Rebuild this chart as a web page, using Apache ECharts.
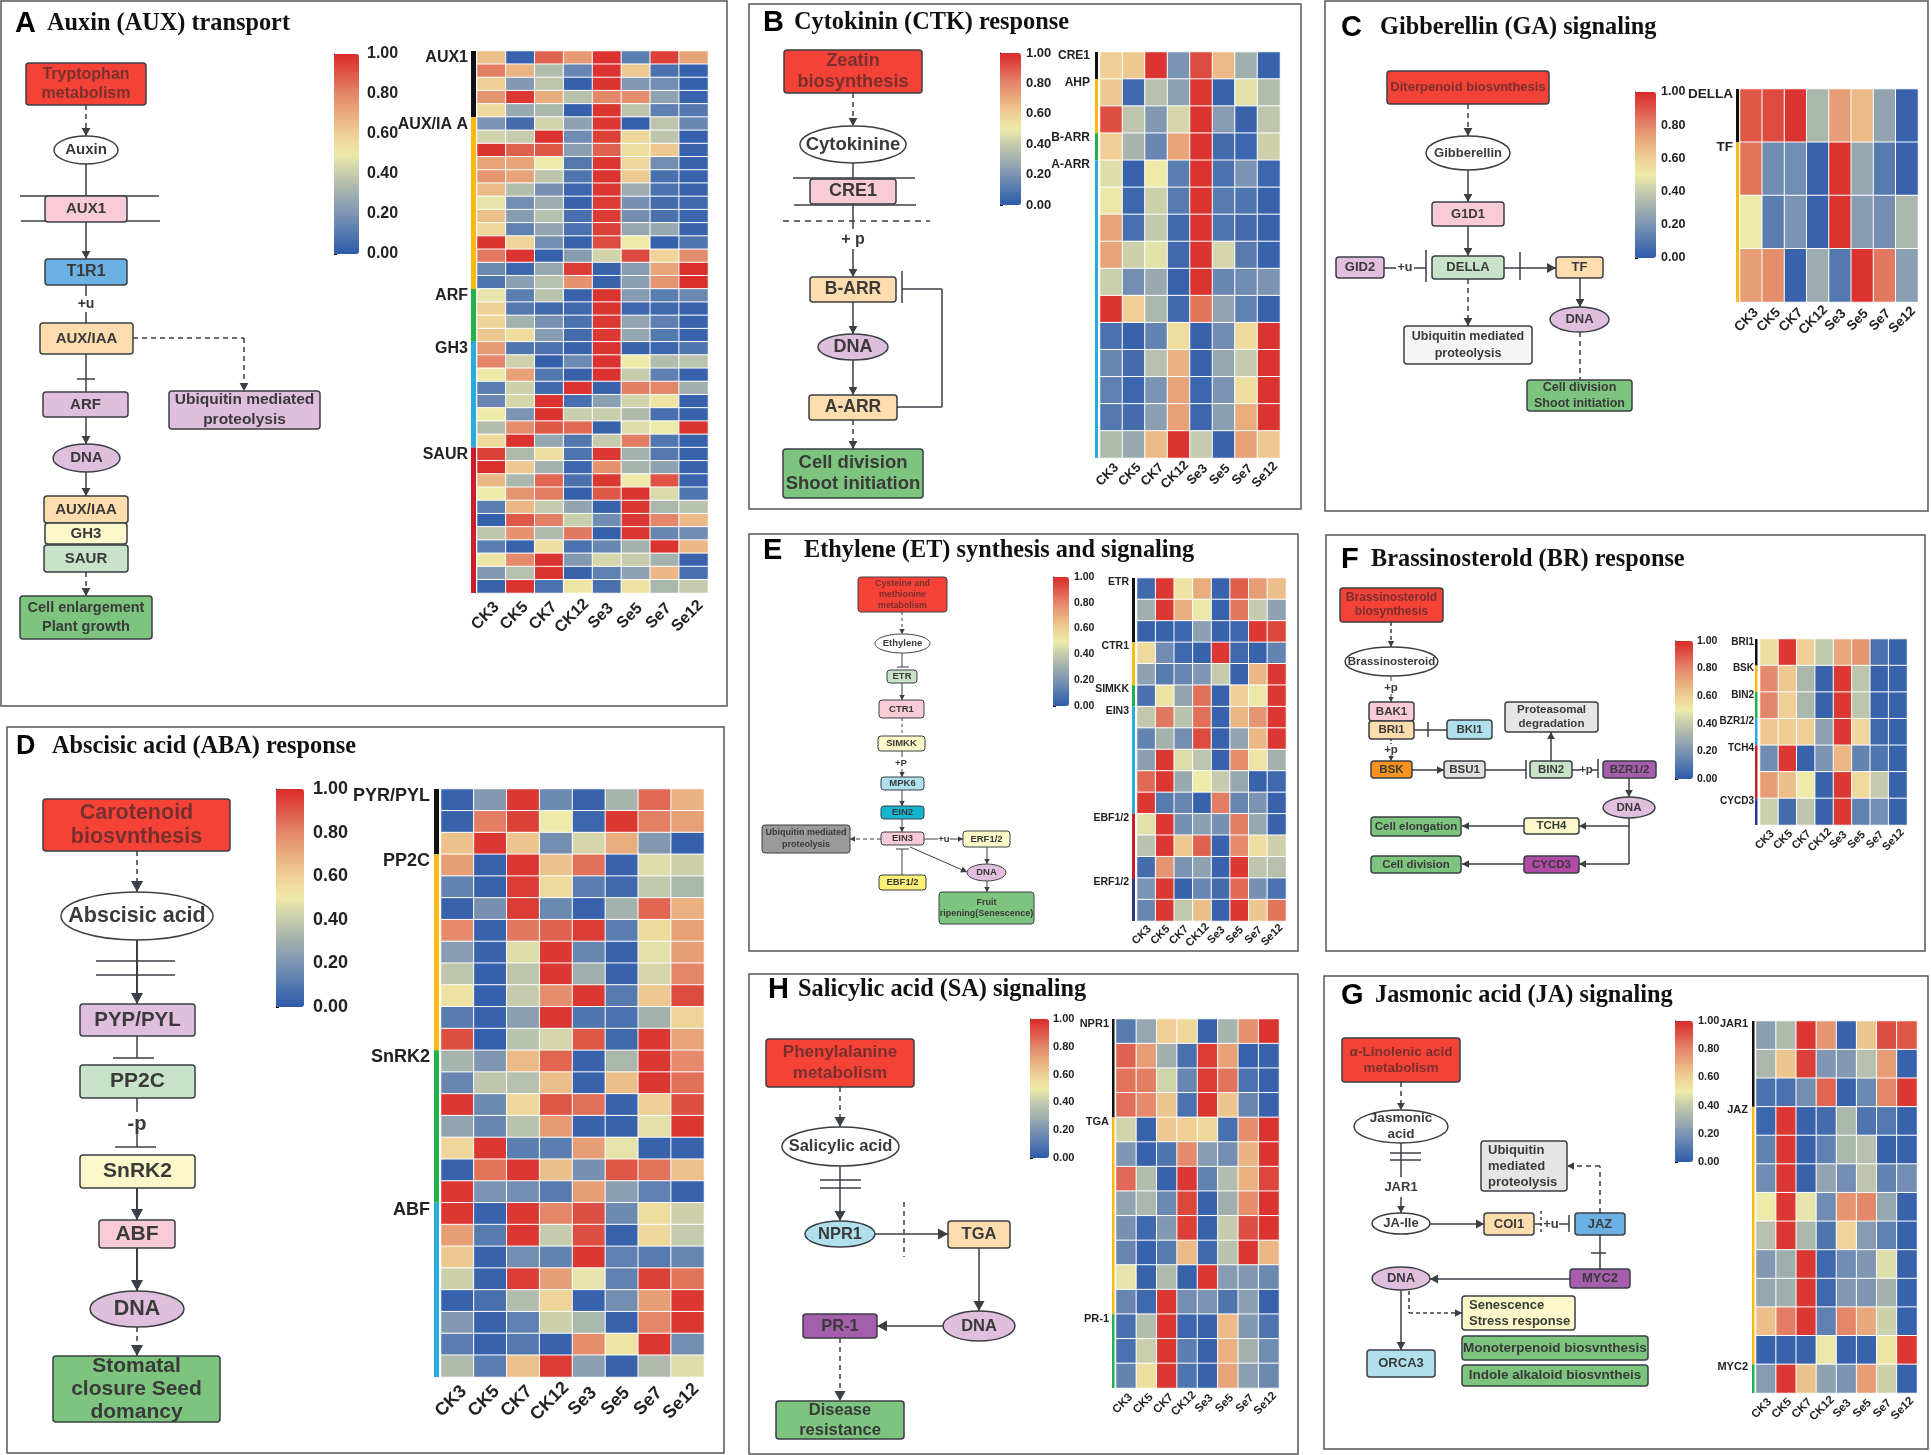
<!DOCTYPE html>
<html><head><meta charset="utf-8">
<style>html,body{margin:0;padding:0;background:#fff}#c{width:1931px;height:1455px}</style>
<script src="https://cdn.jsdelivr.net/npm/echarts@6/dist/echarts.min.js"></script>
</head><body><div id="c"></div>
<script>
// ---------- DATA ----------
const columns = ['CK3','CK5','CK7','CK12','Se3','Se5','Se7','Se12'];
const colorbarTicks = [0,0.2,0.4,0.6,0.8,1];
const colorRamp = ['#2d5aab','#5378af','#7c94b3','#a0afae','#c5cbac','#eeeaa9','#efcf96','#e9ac7d','#e4866a','#de5848','#d92a2a'];

const valuesA = [
[.65,.03,.88,.75,.98,.12,.95,.72],[.82,.68,.35,.15,.98,.62,.08,.02],[.60,.22,.38,.02,.98,.22,.18,.02],[.76,.97,.70,.36,.80,.78,.25,.03],
[.56,.28,.33,.02,.98,.38,.13,.10],[.20,.06,.43,.25,.97,.02,.38,.15],[.43,.40,.98,.17,.95,.57,.38,.02],[.98,.88,.90,.24,.88,.55,.62,.03],
[.72,.72,.50,.10,.97,.57,.18,.03],[.76,.72,.38,.09,.98,.62,.07,.03],[.66,.35,.19,.04,.97,.29,.08,.03],[.48,.18,.29,.03,.96,.19,.06,.05],
[.65,.23,.36,.07,.96,.18,.08,.04],[.57,.13,.26,.08,.95,.27,.27,.03],[.98,.58,.18,.03,.93,.50,.02,.09],[.83,.98,.02,.23,.43,.93,.58,.78],
[.16,.04,.27,.96,.03,.23,.72,.99],[.09,.24,.36,.77,.03,.24,.76,.99],[.48,.12,.37,.03,.98,.23,.12,.16],[.59,.10,.05,.05,.98,.04,.05,.03],
[.58,.31,.19,.08,.97,.26,.13,.03],[.62,.55,.23,.06,.97,.27,.10,.03],[.75,.09,.08,.03,.98,.03,.04,.09],[.80,.42,.02,.16,.98,.50,.35,.37],
[.50,.73,.10,.03,.98,.40,.13,.03],[.12,.42,.05,.98,.03,.82,.80,.30],[.15,.44,.98,.07,.24,.43,.52,.03],[.50,.20,.98,.41,.41,.34,.07,.03],
[.35,.78,.90,.86,.03,.46,.50,.98],[.56,.98,.27,.10,.40,.82,.10,.03],[.95,.34,.54,.09,.97,.31,.10,.03],[.99,.62,.31,.04,.77,.32,.25,.03],
[.67,.33,.87,.08,.97,.50,.91,.03],[.50,.76,.82,.02,.90,.98,.45,.09],[.12,.67,.40,.26,.03,.97,.33,.37],[.02,.90,.82,.41,.17,.97,.80,.66],
[.38,.77,.34,.83,.02,.97,.15,.17],[.12,.03,.55,.08,.15,.31,.98,.67],[.52,.79,.98,.22,.44,.40,.31,.03],[.22,.36,.98,.03,.13,.25,.67,.07],
[.03,.98,.08,.52,.07,.53,.33,.40]];
const groupsA = [['AUX1',5],['AUX/IA A',13],['ARF',4],['GH3',8],['SAUR',11]];

const valuesB = [
[.60,.62,.98,.20,.93,.66,.30,.03],[.62,.05,.36,.25,.97,.03,.47,.35],[.92,.38,.22,.44,.98,.23,.03,.38],[.60,.32,.15,.72,.98,.06,.04,.42],
[.46,.03,.50,.12,.98,.08,.20,.04],[.49,.04,.42,.11,.98,.11,.09,.03],[.72,.07,.39,.05,.98,.09,.06,.03],[.72,.42,.47,.05,.98,.44,.11,.03],
[.41,.18,.28,.03,.98,.15,.17,.20],[.98,.60,.33,.05,.84,.26,.13,.03],[.08,.03,.14,.55,.03,.17,.56,.98],[.15,.06,.36,.68,.03,.27,.40,.98],
[.13,.04,.20,.72,.04,.20,.54,.98],[.10,.06,.24,.73,.04,.24,.70,.98],[.34,.28,.66,.98,.40,.03,.73,.62]];
const groupsB = [['CRE1',1],['AHP',2],['B-ARR',1],['A-ARR',11]];

const valuesC = [
[.90,.93,.98,.33,.74,.66,.26,.03],[.84,.17,.18,.03,.98,.27,.11,.03],[.50,.12,.20,.03,.98,.23,.18,.33],[.74,.78,.03,.29,.10,.98,.83,.24]];
const groupsC = [['DELLA',1],['TF',3]];

const valuesD = [
[.03,.22,.97,.16,.03,.32,.86,.68],[.03,.82,.95,.50,.04,.97,.81,.73],[.64,.97,.63,.18,.44,.70,.22,.02],[.74,.03,.97,.64,.85,.03,.46,.42],
[.14,.03,.96,.56,.12,.05,.39,.33],[.03,.19,.96,.16,.03,.31,.87,.69],[.79,.03,.83,.88,.96,.12,.56,.73],[.23,.03,.46,.97,.15,.03,.47,.74],
[.38,.02,.38,.97,.30,.03,.44,.80],[.53,.02,.40,.78,.97,.11,.62,.93],[.11,.03,.24,.97,.09,.08,.31,.58],[.92,.02,.37,.44,.90,.05,.97,.72],
[.32,.21,.66,.87,.03,.33,.97,.79],[.15,.38,.36,.65,.03,.65,.97,.85],[.97,.16,.57,.90,.85,.03,.60,.92],[.26,.15,.37,.75,.03,.03,.47,.97],
[.57,.97,.12,.12,.74,.48,.03,.03],[.03,.84,.97,.65,.19,.90,.84,.64],[.97,.20,.18,.11,.74,.24,.13,.03],[.97,.03,.97,.80,.92,.16,.55,.42],
[.74,.11,.97,.40,.92,.03,.57,.40],[.62,.03,.18,.14,.97,.13,.11,.15],[.42,.03,.96,.74,.48,.13,.95,.84],[.03,.07,.35,.58,.03,.18,.74,.97],
[.22,.03,.13,.42,.33,.03,.80,.97],[.12,.03,.10,.03,.78,.52,.97,.18],[.34,.12,.64,.96,.24,.03,.34,.46]];
const groupsD = [['PYR/PYL',3],['PP2C',9],['SnRK2',7],['ABF',8]];

const valuesE = [
[.05,.97,.53,.70,.03,.89,.74,.65],[.30,.97,.70,.49,.03,.83,.40,.25],[.03,.03,.04,.24,.03,.04,.97,.94],[.56,.17,.05,.03,.97,.05,.03,.14],
[.25,.11,.15,.21,.40,.03,.67,.97],[.07,.53,.26,.85,.03,.60,.49,.97],[.39,.83,.37,.85,.03,.67,.76,.97],[.14,.31,.18,.93,.03,.26,.67,.97],
[.24,.97,.46,.38,.03,.78,.52,.31],[.86,.97,.28,.50,.40,.27,.03,.05],[.97,.11,.15,.03,.82,.15,.20,.03],[.47,.97,.19,.24,.19,.82,.27,.03],
[.37,.97,.62,.88,.03,.79,.55,.42],[.06,.76,.20,.25,.03,.97,.38,.36],[.20,.97,.03,.15,.06,.86,.19,.08],[.15,.97,.39,.65,.03,.97,.63,.84]];
const groupsE = [['ETR',3],['CTR1',2],['SIMKK',1],['EIN3',5],['EBF1/2',3],['ERF1/2',2]];

const valuesF = [
[.55,.97,.60,.39,.71,.76,.08,.03],[.79,.62,.33,.03,.97,.38,.03,.03],[.80,.60,.33,.03,.97,.38,.03,.03],[.62,.61,.60,.25,.97,.57,.05,.03],
[.17,.97,.03,.20,.67,.14,.09,.03],[.74,.65,.50,.03,.97,.56,.40,.03],[.41,.06,.38,.03,.97,.13,.18,.03]];
const groupsF = [['BRI1',1],['BSK',1],['BIN2',1],['BZR1/2',1],['TCH4',2],['CYCD3',1]];

const valuesH = [
[.11,.27,.60,.57,.03,.32,.77,.98],[.88,.74,.30,.07,.96,.73,.03,.03],[.84,.82,.43,.15,.96,.84,.08,.03],[.85,.79,.63,.08,.97,.63,.15,.03],
[.43,.03,.62,.60,.57,.07,.78,.98],[.21,.03,.09,.79,.23,.18,.68,.98],[.86,.35,.03,.97,.14,.35,.69,.94],[.26,.33,.16,.94,.03,.30,.78,.98],
[.19,.05,.22,.95,.03,.40,.92,.98],[.15,.03,.11,.66,.05,.37,.97,.67],[.48,.03,.34,.03,.97,.23,.22,.16],[.15,.05,.97,.18,.20,.09,.24,.03],
[.07,.35,.97,.04,.03,.66,.22,.09],[.08,.41,.97,.12,.03,.69,.31,.17],[.14,.54,.97,.09,.03,.72,.24,.16]];
const groupsH = [['NPR1',4],['TGA',8],['PR-1',3]];

const valuesG = [
[.24,.34,.97,.76,.03,.63,.92,.90],[.33,.63,.95,.21,.22,.36,.74,.03],[.08,.08,.18,.87,.03,.16,.80,.97],[.04,.97,.03,.06,.33,.09,.10,.03],
[.14,.97,.03,.13,.33,.36,.03,.03],[.17,.97,.03,.26,.18,.38,.14,.18],[.50,.97,.48,.17,.76,.80,.27,.03],[.36,.97,.33,.09,.58,.23,.13,.03],
[.22,.30,.97,.05,.17,.21,.46,.03],[.27,.30,.97,.05,.22,.21,.31,.03],[.65,.82,.97,.13,.80,.71,.42,.03],[.03,.03,.03,.49,.03,.03,.52,.97],
[.23,.97,.64,.25,.20,.74,.42,.03]];
const groupsG = [['JAR1',3],['JAZ',9],['MYC2',1]];

// ---------- LAYOUT & STYLE ----------
const SANS='"Liberation Sans",Arial,sans-serif', SERIF='"Liberation Serif","Times New Roman",serif';
const BK='#111',YL='#fdb913',GN='#22b24c',LB='#29abe2',RD='#c8202a',NV='#2b3a85';
const panelLayout = [
 {id:'A',vals:valuesA,groups:groupsA,gc:[BK,YL,GN,LB,RD],heat:[477,51,708,593],bar:[334,54,359,254],xFs:16,cFs:16,cM:8,gFs:16,gRight:468,gDy:7,barW:5,barGap:1,xM:17,xP:17},
 {id:'B',vals:valuesB,groups:groupsB,gc:[BK,YL,GN,LB],heat:[1100,52,1280,458],bar:[1000,53,1021,205],xFs:13,cFs:13,cM:5,gFs:12,gRight:1090,gDy:4,barW:3,barGap:2,xM:13,xP:11},
 {id:'C',vals:valuesC,groups:groupsC,gc:[BK,YL],heat:[1740,89,1918,302],bar:[1635,92,1656,258],xFs:13.5,cFs:12.5,cM:5,gFs:13.5,gRight:1733,gDy:5,barW:3,barGap:1,xM:13.5,xP:13},
 {id:'D',vals:valuesD,groups:groupsD,gc:[BK,YL,GN,LB],heat:[441,789,704,1377],bar:[276,789,304,1007],xFs:18,cFs:18,cM:9,gFs:18,gRight:430,gDy:7,barW:5,barGap:2,xM:18,xP:18},
 {id:'E',vals:valuesE,groups:groupsE,gc:[BK,YL,GN,LB,RD,NV],heat:[1137,578,1286,921],bar:[1053,577,1069,706],xFs:11,cFs:10.5,cM:5,gFs:10.5,gRight:1129,gDy:4,barW:3,barGap:2,xM:9.5,xP:13},
 {id:'F',vals:valuesF,groups:groupsF,gc:[BK,YL,GN,LB,RD,NV],heat:[1760,639,1907,825],bar:[1675,641,1693,779],xFs:11,cFs:10.5,cM:4,gFs:10,gRight:1754,gDy:3,barW:2.5,barGap:2.5,xM:10.5,xP:12.5},
 {id:'H',vals:valuesH,groups:groupsH,gc:[BK,YL,GN],heat:[1116,1019,1279,1388],bar:[1030,1019,1049,1158],xFs:11.5,cFs:11,cM:4,gFs:11,gRight:1109,gDy:5,barW:2.5,barGap:1.5,xM:12,xP:10},
 {id:'G',vals:valuesG,groups:groupsG,gc:[BK,YL,GN],heat:[1756,1021,1917,1393],bar:[1675,1021,1693,1162],xFs:11.5,cFs:11,cM:5,gFs:11,gRight:1748,gDy:3,barW:2.5,barGap:1.5,xM:11,xP:12.5}
];

const INK='#3a3a3a', EDGE='#3a3f44';
const RED='#f44336',PINK='#f9cbd6',BLUE='#6cb1e4',PEACH='#fddcae',PURP='#dfbede',CREAM='#fdf8c9',PGRN='#c8e3c8',GRN='#7dc47f',CYAN='#b0e0ee',MAG='#a45eab',LGR='#e5e5e5';
const G=[];
const txt=(x,y,t,fs,o={})=>G.push({type:'text',silent:true,z:20,x,y,style:{text:t,font:`${o.w||'bold'} ${fs}px ${o.f||SANS}`,fill:o.c||INK,align:o.a||'center',verticalAlign:'middle',lineHeight:o.lh||fs*1.22}});
const box=(x0,y0,x1,y1,fill,t,fs,o={})=>{G.push({type:'rect',silent:true,z:15,shape:{x:x0,y:y0,width:x1-x0,height:y1-y0,r:3},style:{fill,stroke:EDGE,lineWidth:o.lw||1.5}});
  if(t) txt(o.tx!==undefined?o.tx:(x0+x1)/2,(y0+y1)/2,t,fs,{c:fill===RED?'#7a2f2f':INK,lh:o.lh,a:o.a});};
const ell=(x0,y0,x1,y1,fill,t,fs,o={})=>{G.push({type:'ellipse',silent:true,z:15,shape:{cx:(x0+x1)/2,cy:(y0+y1)/2,rx:(x1-x0)/2,ry:(y1-y0)/2},style:{fill,stroke:EDGE,lineWidth:o.lw||1.5}});
  if(t) txt((x0+x1)/2,(y0+y1)/2,t,fs,{lh:o.lh});};
const ln=(x1,y1,x2,y2,o={})=>G.push({type:'line',silent:true,z:12,shape:{x1,y1,x2,y2},style:{stroke:o.c||EDGE,lineWidth:o.lw||1.5,lineDash:o.dash?(o.dash===true?[5,4]:o.dash):null}});
const head=(x1,y1,x2,y2,s)=>{const a=Math.atan2(y2-y1,x2-x1),w=s*0.55;
  G.push({type:'polygon',silent:true,z:13,shape:{points:[[x2,y2],[x2-s*Math.cos(a)+w*Math.sin(a),y2-s*Math.sin(a)-w*Math.cos(a)],[x2-s*Math.cos(a)-w*Math.sin(a),y2-s*Math.sin(a)+w*Math.cos(a)]]},style:{fill:EDGE}});};
const arr=(x1,y1,x2,y2,o={})=>{ln(x1,y1,x2,y2,o);head(x1,y1,x2,y2,o.s||8);};
const frame=(x0,y0,x1,y1)=>G.push({type:'rect',silent:true,z:1,shape:{x:x0,y:y0,width:x1-x0,height:y1-y0},style:{fill:'none',stroke:'#555',lineWidth:1.5}});
const title=(lx,x,y,letter,t,fs,lfs)=>{txt(lx,y,letter,lfs,{c:'#000',a:'left'});txt(x,y,t,fs,{c:'#111',a:'left',f:SERIF});};
const TF=24.3;

// Panel A
frame(1,1,727,706); title(15,47,24,'A','Auxin (AUX) transport',TF,29);
box(26,63,146,105,RED,'Tryptophan\nmetabolism',16);
arr(86,105,86,136,{dash:true});
ell(54,136,118,164,'#fff','Auxin',15);
ln(86,164,86,196); ln(20,196,159,196); ln(21,221,160,221);
box(45,196,127,222,PINK,'AUX1',15);
arr(86,222,86,259);
box(45,259,127,285,BLUE,'T1R1',16);
ln(86,285,86,296); txt(86,304,'+u',14); ln(86,312,86,323);
box(40,323,133,354,PEACH,'AUX/IAA',15);
ln(86,354,86,392); ln(77,379,95,379);
ln(133,338,244,338,{dash:true}); arr(244,338,244,391,{dash:true});
box(43,392,128,417,PURP,'ARF',15);
box(169,391,320,429,PURP,'Ubiquitin mediated\nproteolysis',15.5,{lh:20});
arr(86,417,86,444);
ell(53,444,120,472,PURP,'DNA',15);
arr(86,472,86,496);
box(44,496,128,523,PEACH,'AUX/IAA',15); box(45,523,127,544,CREAM,'GH3',15); box(44,545,128,572,PGRN,'SAUR',15);
arr(86,572,86,596,{dash:true});
box(20,596,152,639,GRN,'Cell enlargement\nPlant growth',14.5,{lh:18.6});

// Panel B
frame(749,4,1301,509); title(763,794,23,'B','Cytokinin (CTK) response',TF,29);
box(784,50,922,93,RED,'Zeatin\nbiosynthesis',18.2,{lh:20.5});
arr(853,93,853,126,{dash:true});
ell(800,126,906,163,'#fff','Cytokinine',18.5);
ln(853,163,853,229); ln(793,178,915,178); ln(794,205,916,205); ln(783,221,930,221,{dash:[6,5]});
box(810,179,896,204,PINK,'CRE1',18);
txt(853,240,'+ p',16);
arr(853,249,853,277);
box(810,277,896,302,PEACH,'B-ARR',17.5);
ln(902,271,902,303); ln(902,289,942,289); ln(942,289,942,407); ln(897,407,942,407);
arr(853,302,853,334);
ell(818,334,888,360,PURP,'DNA',18);
arr(853,360,853,395);
box(809,395,897,420,PEACH,'A-ARR',17.5);
arr(853,420,853,449,{dash:true});
box(783,449,923,498,GRN,'Cell division\nShoot initiation',18.5,{lh:20.5});

// Panel C
frame(1325,1,1928,511); title(1341,1380,28,'C','Gibberellin (GA) signaling',TF,29);
box(1387,71,1549,104,RED,'Diterpenoid biosvnthesis',13);
arr(1468,104,1468,136,{dash:true});
ell(1426,136,1510,170,'#fff','Gibberellin',13);
arr(1468,170,1468,202);
box(1432,202,1504,226,PINK,'G1D1',13);
arr(1468,226,1468,256);
box(1432,256,1504,279,PGRN,'DELLA',13);
box(1336,257,1384,278,PURP,'GID2',13);
ln(1384,268,1396,268); txt(1405,268,'+u',12.5); ln(1414,268,1426,268);
ln(1426,250,1426,282);
ln(1504,268,1556,268); head(1504,268,1556,268,9); ln(1520,252,1520,280);
box(1556,257,1603,278,PEACH,'TF',13);
arr(1580,278,1580,307);
ell(1550,307,1609,332,PURP,'DNA',13);
arr(1468,279,1468,326,{dash:true});
box(1404,326,1532,364,'#f5f5f5','Ubiquitin mediated\nproteolysis',12.5,{lh:16.5});
ln(1580,332,1580,380,{dash:true});
box(1527,380,1632,411,GRN,'Cell division\nShoot initiation',12.5,{lh:16.5});

// Panel D
frame(7,727,724,1453); title(16,52,747,'D','Abscisic acid (ABA) response',TF,27);
box(43,799,230,851,RED,'Carotenoid\nbiosvnthesis',21.5,{lh:24});
arr(137,851,137,892,{dash:true,s:11});
ell(61,892,213,940,'#fff','Abscisic acid',21.5);
arr(137,940,137,1004,{s:11,lw:2}); ln(96,961,175,961); ln(96,975,175,975);
box(80,1004,195,1036,PURP,'PYP/PYL',20.5);
ln(137,1036,137,1058); ln(113,1058,154,1058);
box(80,1065,195,1098,PGRN,'PP2C',21);
ln(137,1098,137,1112); txt(137,1124,'-p',20); ln(137,1134,137,1147); ln(115,1147,156,1147);
box(80,1155,195,1188,CREAM,'SnRK2',21);
arr(137,1188,137,1220,{s:11,lw:2});
box(99,1220,175,1248,PINK,'ABF',21);
arr(137,1248,137,1291,{s:11,lw:2});
ell(90,1291,184,1327,PURP,'DNA',21.5);
arr(137,1327,137,1356,{dash:true,s:11});
box(53,1356,220,1422,GRN,'Stomatal\nclosure Seed\ndomancy',21,{lh:23});

// Panel E
frame(749,534,1298,951); title(763,804,551,'E','Ethylene (ET) synthesis and signaling',TF,29);
box(858,577,947,612,RED,'Cysteine and\nmethionine\nmetabolism',8.8,{lh:11.3,lw:1});
arr(902,612,902,634,{dash:[3,3],lw:1,s:5});
ell(875,634,930,653,'#fff','Ethylene',9.5,{lw:1});
ln(902,653,902,667,{lw:1}); ln(897,667,909,667,{lw:1});
box(887,670,917,683,PGRN,'ETR',9.5,{lw:1});
arr(902,683,902,700,{lw:1,s:5});
box(879,700,924,718,PINK,'CTR1',9.5,{lw:1});
ln(902,718,902,736,{dash:[3,3],lw:1});
box(878,736,925,751,CREAM,'SIMKK',9.5,{lw:1});
ln(902,751,902,757,{lw:1}); txt(901,763,'+P',9.5); arr(902,769,902,777,{lw:1,s:5});
box(881,777,924,790,CYAN,'MPK6',9.5,{lw:1});
arr(902,790,902,806,{lw:1,s:5});
box(881,806,924,819,'#14b5d0','EIN2',9.5,{lw:1});
arr(902,819,902,832,{lw:1,s:5});
box(881,832,924,845,PINK,'EIN3',9.5,{lw:1});
arr(881,839,850,839,{dash:[4,3],lw:1,s:5});
box(762,825,850,853,'#9a9a9a','Ubiquitin mediated\nproteolysis',9,{lh:12,lw:1});
ln(924,839,938,839,{lw:1}); txt(944,839,'+u',9.5); arr(950,839,963,839,{lw:1,s:5});
box(963,831,1010,847,CREAM,'ERF1/2',9.5,{lw:1});
arr(987,847,987,864,{lw:1,s:5});
ell(967,864,1006,881,PURP,'DNA',9.5,{lw:1});
arr(910,847,967,872,{lw:1,s:6});
ln(896,849,909,849,{lw:1}); ln(902,849,902,875,{lw:1});
box(879,875,926,890,'#fff176','EBF1/2',9.5,{lw:1});
arr(987,881,987,892,{lw:1,s:5});
box(939,892,1034,924,GRN,'Fruit\nripening(Senescence)',9,{lh:11.5,lw:1});

// Panel F
frame(1326,535,1925,951); title(1341,1371,560,'F','Brassinosterold (BR) response',TF,29);
box(1340,588,1443,622,RED,'Brassinosterold\nbiosynthesis',12,{lh:14.3});
arr(1391,622,1391,647,{dash:[4,3],s:6});
ell(1345,647,1438,676,'#fff','Brassinosteroid',11.5);
ln(1391,676,1391,681,{lw:1}); txt(1391,688,'+p',11.5); arr(1391,694,1391,702,{lw:1,s:5});
box(1369,702,1414,721,PINK,'BAK1',11.5);
box(1369,721,1414,739,PEACH,'BRI1',11.5);
ln(1414,730,1447,730); ln(1428,722,1428,737);
box(1447,720,1492,739,CYAN,'BKI1',11.5);
ln(1391,739,1391,744,{dash:[2,2]}); txt(1391,750,'+p',11.5); arr(1391,755,1391,761,{lw:1,s:5});
box(1371,761,1412,778,'#f7931e','BSK',11.5);
arr(1412,770,1444,770,{s:7});
box(1444,761,1485,778,'#e0e0e0','BSU1',11.5);
ln(1485,770,1526,770); ln(1526,760,1526,779);
box(1530,761,1572,778,PGRN,'BIN2',11.5);
arr(1551,761,1551,732,{s:7});
box(1505,702,1598,732,LGR,'Proteasomal\ndegradation',11.5,{lh:13.5});
ln(1572,770,1580,770); txt(1586,770,'+p',11.5); ln(1592,770,1598,770); ln(1598,759,1598,778);
box(1603,761,1656,778,MAG,'BZR1/2',11.5);
arr(1629,778,1629,797,{s:7});
ell(1603,797,1655,818,PURP,'DNA',11.5);
ln(1629,818,1629,864); arr(1629,826,1579,826,{s:7}); arr(1629,864,1579,864,{s:7});
box(1524,818,1579,834,CREAM,'TCH4',11.5); box(1524,856,1579,873,'#b24aa8','CYCD3',11.5);
arr(1524,826,1462,826,{s:7}); arr(1524,864,1462,864,{s:7});
box(1371,817,1461,836,GRN,'Cell elongation',11.5); box(1371,856,1461,873,GRN,'Cell division',11.5);

// Panel H
frame(749,974,1298,1454); title(768,798,990,'H','Salicylic acid (SA) signaling',TF,29);
box(766,1039,914,1087,RED,'Phenylalanine\nmetabolism',17,{lh:21});
arr(840,1087,840,1127,{dash:true,s:10});
ell(782,1127,899,1166,'#fff','Salicylic acid',16.5);
arr(840,1166,840,1221,{s:10}); ln(820,1180,861,1180); ln(820,1188,861,1188);
ell(805,1221,875,1247,CYAN,'NPR1',16.5);
ln(904,1202,904,1257,{dash:true}); arr(875,1234,948,1234,{s:10});
box(948,1221,1010,1248,PEACH,'TGA',16.5);
arr(979,1248,979,1311,{s:10});
ell(943,1311,1015,1341,PURP,'DNA',16.5);
arr(943,1326,877,1326,{s:10});
box(803,1314,877,1338,MAG,'PR-1',16.5);
arr(840,1338,840,1401,{dash:true,s:10});
box(776,1401,904,1439,GRN,'Disease\nresistance',16.5,{lh:20});

// Panel G
frame(1324,976,1928,1449); title(1341,1375,996,'G','Jasmonic acid (JA) signaling',TF,29);
box(1342,1038,1460,1082,RED,'\u03b1-Linolenic acid\nmetabolism',13.5,{lh:16});
arr(1401,1082,1401,1110,{dash:true,s:7});
ell(1354,1110,1448,1143,'#fff','Jasmonic\nacid',13.5,{lh:16});
ln(1401,1143,1401,1177); ln(1390,1153,1421,1153); ln(1390,1160,1421,1160);
txt(1401,1187,'JAR1',13);
arr(1401,1197,1401,1213,{s:7});
ell(1372,1213,1430,1234,'#fff','JA-Ile',13);
arr(1430,1224,1484,1224,{s:8});
box(1484,1213,1534,1235,PEACH,'COI1',13);
ln(1534,1224,1542,1224); ln(1541,1211,1541,1235,{dash:[3,3]}); txt(1551,1224,'+u',13); ln(1559,1224,1569,1224); ln(1569,1215,1569,1232);
box(1575,1213,1625,1235,BLUE,'JAZ',13);
ln(1600,1213,1600,1166,{dash:true}); arr(1600,1166,1567,1166,{dash:true,s:7});
box(1481,1141,1567,1191,LGR,'Ubiquitin\nmediated\nproteolysis',13,{lh:16,a:'left',tx:1488});
ln(1600,1235,1600,1269); ln(1591,1253,1606,1253);
box(1570,1269,1630,1288,MAG,'MYC2',13);
arr(1570,1279,1430,1279,{s:8});
ell(1372,1267,1430,1290,PURP,'DNA',13);
ln(1409,1291,1409,1313,{dash:[4,3]}); arr(1409,1313,1462,1313,{dash:[4,3],s:7});
box(1462,1296,1575,1330,CREAM,'Senescence\nStress response',13,{lh:16,a:'left',tx:1469});
arr(1401,1290,1401,1350,{s:8});
box(1367,1350,1435,1377,CYAN,'ORCA3',13);
box(1462,1336,1648,1360,GRN,'Monoterpenoid biosvnthesis',13.5);
box(1462,1365,1648,1386,GRN,'Indole alkaloid biosvntheis',13.5);

// ---------- CHART OPTION ----------
const grid=[],xAxis=[],yAxis=[],series=[],visualMap=[];
const W=1931,H=1455;
panelLayout.forEach((p,i)=>{
  const [hx0,hy0,hx1,hy1]=p.heat,[bx0,by0,bx1,by1]=p.bar;
  grid.push({left:hx0,top:hy0,width:hx1-hx0,height:hy1-hy0});
  xAxis.push({gridIndex:2*i,type:'category',data:columns,position:'bottom',axisLine:{show:false},axisTick:{show:false},splitLine:{show:false},
    axisLabel:{rotate:45,interval:0,align:'center',verticalAlign:'middle',padding:[0,p.xP,0,0],fontFamily:SANS,fontWeight:'bold',fontSize:p.xFs,color:'#222',margin:p.xM}});
  yAxis.push({gridIndex:2*i,type:'category',inverse:true,show:false,data:p.vals.map((_,r)=>String(r))});
  grid.push({left:bx0,top:by0,width:bx1-bx0,height:by1-by0});
  xAxis.push({gridIndex:2*i+1,type:'value',show:false,min:0,max:1});
  yAxis.push({gridIndex:2*i+1,type:'value',min:colorbarTicks[0],max:colorbarTicks[colorbarTicks.length-1],interval:0.2,position:'right',
    axisLine:{show:true,lineStyle:{color:'#111',width:1}},axisTick:{show:true,length:3,lineStyle:{color:'#111'}},splitLine:{show:false},
    axisLabel:{fontFamily:SANS,fontWeight:'bold',fontSize:p.cFs,color:'#222',margin:p.cM,formatter:v=>v.toFixed(2)}});
  const cells=[];
  p.vals.forEach((row,r)=>row.forEach((v,c)=>cells.push([c,r,v])));
  const heatIndex=series.length;
  series.push({type:'heatmap',xAxisIndex:2*i,yAxisIndex:2*i,data:cells,silent:true,progressive:0,
    itemStyle:{borderColor:'#fff',borderWidth:1},emphasis:{disabled:true}});
  let start=0;
  const segs=p.groups.map((g,k)=>{const s=[0,start,g[1],k];start+=g[1];return s;});
  series.push({type:'custom',xAxisIndex:2*i,yAxisIndex:2*i,silent:true,clip:false,data:segs,encode:{x:0,y:1},
    renderItem:(params,api)=>{
      const k=api.value(3),n=api.value(2),pt=api.coord([0,api.value(1)]),sz=api.size([1,1]);
      const top=pt[1]-sz[1]/2,left=pt[0]-sz[0]/2-p.barGap-p.barW;
      return {type:'group',children:[
        {type:'rect',shape:{x:left,y:top,width:p.barW,height:sz[1]*n},style:{fill:p.gc[k]}},
        {type:'text',style:{x:p.gRight,y:top+p.gDy,text:p.groups[k][0],align:'right',verticalAlign:'middle',font:`bold ${p.gFs}px ${SANS}`,fill:'#222'}}
      ]};
    }});
  visualMap.push({type:'continuous',seriesIndex:heatIndex,min:0,max:1,left:bx0,top:by0,itemWidth:bx1-bx0,itemHeight:by1-by0,padding:0,
    calculable:false,showLabel:false,text:null,hoverLink:false,inRange:{color:colorRamp}});
});

const chart=echarts.init(document.getElementById('c'),null,{renderer:'canvas',width:W,height:H});
chart.setOption({animation:false,backgroundColor:'#fff',tooltip:{show:false},grid,xAxis,yAxis,series,visualMap,graphic:{elements:G}});
</script></body></html>
